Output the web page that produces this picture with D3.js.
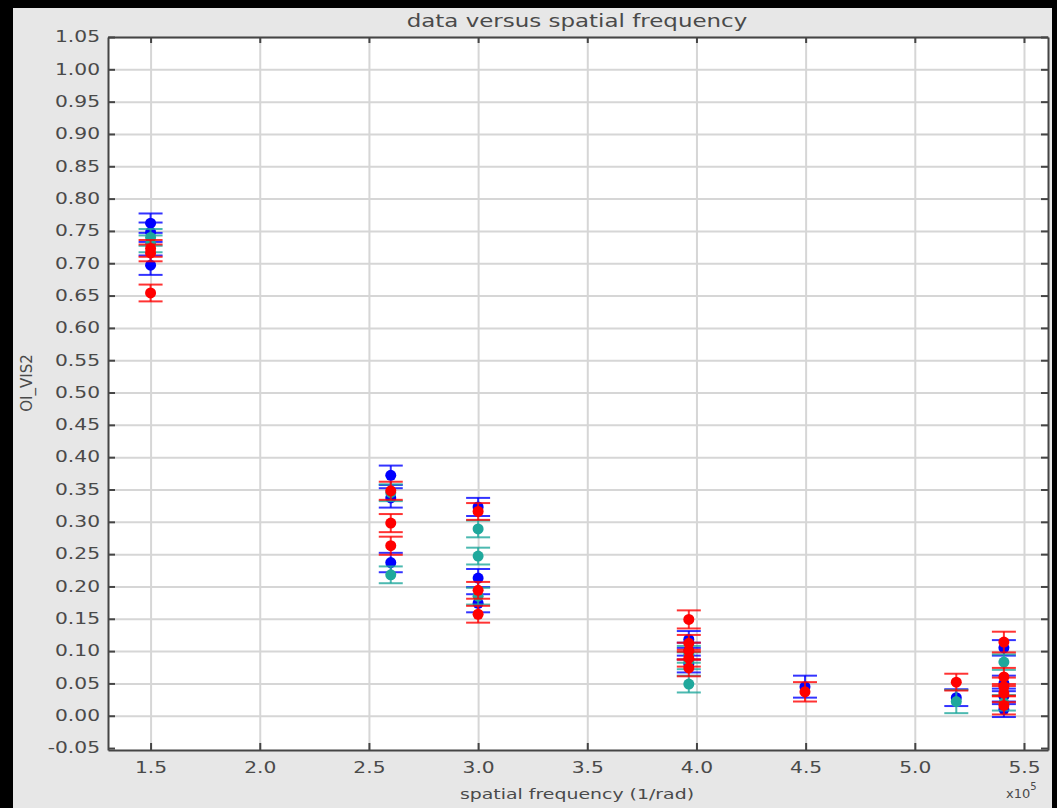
<!DOCTYPE html>
<html>
<head>
<meta charset="utf-8">
<script src="https://cdn.jsdelivr.net/npm/d3@7"></script>
<style>
  body { margin: 0; background: #000; }
  text { font-family: "DejaVu Sans", sans-serif; fill: #4a4a4a; }
</style>
</head>
<body>
<div id="chart"></div>
<script>
// frequencies in units of 1e5 (1/rad)
const blueFreq = [1.5, 1.5, 1.5, 2.6, 2.6, 2.6, 3.0, 3.0, 3.0, 3.965, 3.965, 3.965, 4.497, 5.19, 5.408, 5.408, 5.408, 5.408];
const blueVis  = [0.762, 0.748, 0.697, 0.372, 0.337, 0.237, 0.323, 0.213, 0.174, 0.118, 0.100, 0.080, 0.045, 0.028, 0.105, 0.050, 0.030, 0.010];
const blueErr  = [0.015, 0.015, 0.015, 0.015, 0.015, 0.015, 0.014, 0.014, 0.014, 0.013, 0.013, 0.013, 0.017, 0.013, 0.012, 0.012, 0.012, 0.012];

const tealFreq = [1.5, 1.5, 2.6, 2.6, 3.0, 3.0, 3.0, 3.965, 3.965, 3.965, 5.19, 5.408, 5.408];
const tealVis  = [0.740, 0.730, 0.345, 0.218, 0.289, 0.247, 0.185, 0.095, 0.085, 0.049, 0.022, 0.083, 0.020];
const tealErr  = [0.013, 0.013, 0.013, 0.013, 0.013, 0.013, 0.013, 0.013, 0.013, 0.013, 0.018, 0.012, 0.012];

const redFreq = [1.5, 1.5, 1.5, 2.6, 2.6, 2.6, 3.0, 3.0, 3.0, 3.965, 3.965, 3.965, 3.965, 3.965, 4.497, 5.19, 5.408, 5.408, 5.408, 5.408, 5.408];
const redVis  = [0.723, 0.716, 0.654, 0.348, 0.298, 0.263, 0.316, 0.194, 0.157, 0.149, 0.112, 0.100, 0.089, 0.074, 0.037, 0.052, 0.114, 0.060, 0.045, 0.035, 0.016];
const redErr  = [0.013, 0.013, 0.013, 0.014, 0.014, 0.014, 0.013, 0.013, 0.013, 0.014, 0.013, 0.013, 0.013, 0.013, 0.015, 0.013, 0.016, 0.014, 0.014, 0.014, 0.014];

const xTicks = [1.5, 2.0, 2.5, 3.0, 3.5, 4.0, 4.5, 5.0, 5.5];
const yTicks = [-0.05, 0.00, 0.05, 0.10, 0.15, 0.20, 0.25, 0.30, 0.35, 0.40, 0.45, 0.50,
                0.55, 0.60, 0.65, 0.70, 0.75, 0.80, 0.85, 0.90, 0.95, 1.00, 1.05];

const W = 1057, H = 808;
const plot = { left: 108, top: 37, right: 1048, bottom: 750 };
const stretch = 1.35; // the reference text is horizontally widened

const svg = d3.select("#chart").append("svg")
    .attr("width", W).attr("height", H);

svg.append("rect").attr("width", W).attr("height", H).attr("fill", "#000");
svg.append("rect")
    .attr("x", 13).attr("y", 8).attr("width", 1039).attr("height", 800)
    .attr("fill", "#e7e7e7");
svg.append("rect")
    .attr("x", plot.left).attr("y", plot.top)
    .attr("width", plot.right - plot.left).attr("height", plot.bottom - plot.top)
    .attr("fill", "#fff");

const x = d3.scaleLinear().domain([1.305, 5.61]).range([plot.left, plot.right]);
const y = d3.scaleLinear().domain([-0.053, 1.05]).range([plot.bottom, plot.top]);

// grid
svg.append("g")
    .attr("transform", "translate(0," + plot.bottom + ")")
    .call(d3.axisBottom(x).tickValues(xTicks).tickSize(-(plot.bottom - plot.top)).tickFormat(""))
    .call(g => g.select(".domain").remove())
    .call(g => g.selectAll("line").attr("stroke", "#d6d6d6").attr("stroke-width", 2));
svg.append("g")
    .attr("transform", "translate(" + plot.left + ",0)")
    .call(d3.axisLeft(y).tickValues(yTicks.slice(1)).tickSize(-(plot.right - plot.left)).tickFormat(""))
    .call(g => g.select(".domain").remove())
    .call(g => g.selectAll("line").attr("stroke", "#d6d6d6").attr("stroke-width", 2));

// data
function drawSeries(freq, vis, err, color) {
    const g = svg.append("g");
    const pts = freq.map((f, i) => ({ f: f, v: vis[i], e: err[i] }));
    const bars = g.selectAll(".eb").data(pts).enter().append("g")
        .attr("stroke", color).attr("stroke-width", 2).attr("stroke-opacity", 0.8);
    bars.append("line")
        .attr("x1", d => x(d.f)).attr("x2", d => x(d.f))
        .attr("y1", d => y(d.v - d.e)).attr("y2", d => y(d.v + d.e));
    bars.append("line")
        .attr("x1", d => x(d.f) - 12).attr("x2", d => x(d.f) + 12)
        .attr("y1", d => y(d.v + d.e)).attr("y2", d => y(d.v + d.e));
    bars.append("line")
        .attr("x1", d => x(d.f) - 12).attr("x2", d => x(d.f) + 12)
        .attr("y1", d => y(d.v - d.e)).attr("y2", d => y(d.v - d.e));
    g.selectAll(".pt").data(pts).enter().append("circle")
        .attr("cx", d => x(d.f)).attr("cy", d => y(d.v))
        .attr("r", 5.5).attr("fill", color);
}
drawSeries(blueFreq, blueVis, blueErr, "#0000ff");
drawSeries(tealFreq, tealVis, tealErr, "#1fa89c");
drawSeries(redFreq, redVis, redErr, "#ff0000");

// axes: ticks point inward on all four sides
const axisColor = "#454545";
function styleAxis(g) {
    g.select(".domain").attr("stroke", axisColor).attr("stroke-width", 2);
    g.selectAll(".tick line").attr("stroke", axisColor).attr("stroke-width", 2);
}
const fmt2 = d => d3.format(".2f")(d).replace("\u2212", "-");

const left = svg.append("g")
    .attr("transform", "translate(" + plot.left + ",0)")
    .call(d3.axisLeft(y).tickValues(yTicks).tickSizeInner(-7).tickSizeOuter(0).tickFormat(fmt2))
    .call(styleAxis);
left.selectAll(".tick text")
    .attr("x", -8 / stretch)
    .attr("transform", "scale(" + stretch + ",1)")
    .style("font-size", "15px").attr("fill", "#4a4a4a");

const bottom = svg.append("g")
    .attr("transform", "translate(0," + plot.bottom + ")")
    .call(d3.axisBottom(x).tickValues(xTicks).tickSizeInner(-7).tickSizeOuter(0).tickFormat(d3.format(".1f")))
    .call(styleAxis);
bottom.selectAll(".tick text")
    .attr("y", 12)
    .attr("transform", "scale(" + stretch + ",1)")
    .style("font-size", "15px").attr("fill", "#4a4a4a");

svg.append("g")
    .attr("transform", "translate(" + plot.right + ",0)")
    .call(d3.axisRight(y).tickValues(yTicks).tickSizeInner(-7).tickSizeOuter(0).tickFormat(""))
    .call(styleAxis);
svg.append("g")
    .attr("transform", "translate(0," + plot.top + ")")
    .call(d3.axisTop(x).tickValues(xTicks).tickSizeInner(-6).tickSizeOuter(0).tickFormat(""))
    .call(styleAxis);

// texts
function stretchedText(tx, ty, str, size, anchor) {
    return svg.append("text")
        .attr("transform", "translate(" + tx + "," + ty + ") scale(" + stretch + ",1)")
        .attr("text-anchor", anchor || "middle")
        .style("font-size", size + "px")
        .text(str);
}
stretchedText(577, 27, "data versus spatial frequency", 17);
stretchedText(577, 799, "spatial frequency (1/rad)", 14);

const xp = svg.append("text")
    .attr("x", 1006).attr("y", 798)
    .style("font-size", "13px");
xp.append("tspan").text("x10");
xp.append("tspan").attr("dy", -8).style("font-size", "10px").text("5");

svg.append("text")
    .attr("transform", "translate(32,383) rotate(-90)")
    .attr("text-anchor", "middle")
    .style("font-size", "15px")
    .text("OI_VIS2");
</script>
</body>
</html>
